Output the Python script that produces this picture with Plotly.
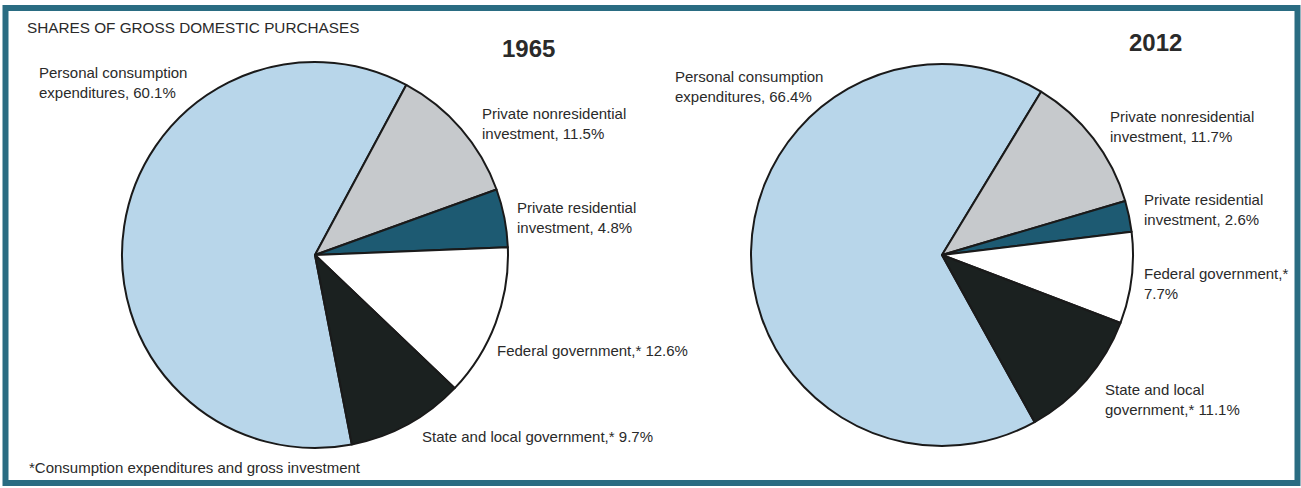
import plotly.graph_objects as go

categories = ["Personal consumption expenditures", "Private nonresidential investment",
              "Private residential investment", "Federal government", "State and local government"]
values_1965 = [60.1, 11.5, 4.8, 12.6, 9.7]
values_2012 = [66.4, 11.7, 2.6, 7.7, 11.1]
colors = ["#b8d6ea", "#c6c9cc", "#1d5a72", "#ffffff", "#1b2120"]

W, H = 1301, 488
REG = "Liberation Sans, Arial, sans-serif"

def px(x):
    return x / W

def py(y):
    return 1 - y / H

fig = go.Figure()
for vals, x0, x1, rot in [(values_1965, 122, 508, 169), (values_2012, 751, 1133, 151)]:
    fig.add_trace(go.Pie(
        labels=categories, values=vals, sort=False, direction="clockwise", rotation=rot,
        marker=dict(colors=colors, line=dict(color="#1a1a1a", width=2)),
        textinfo="none", hoverinfo="label+percent", showlegend=False,
        domain=dict(x=[px(x0), px(x1)], y=[py(448), py(62)]),
    ))

labels = [
    ("Personal consumption<br>expenditures, 60.1%", 37, 82),
    ("Private nonresidential<br>investment, 11.5%", 480, 124),
    ("Private residential<br>investment, 4.8%", 515, 217),
    ("Federal government,* 12.6%", 495, 350),
    ("State and local government,* 9.7%", 420, 436),
    ("*Consumption expenditures and gross investment", 27, 467),
    ("Personal consumption<br>expenditures, 66.4%", 673, 86),
    ("Private nonresidential<br>investment, 11.7%", 1108, 127),
    ("Private residential<br>investment, 2.6%", 1142, 209),
    ("Federal government,*<br>7.7%", 1142, 283),
    ("State and local<br>government,* 11.1%", 1103, 399),
]
for txt, x, y in labels:
    fig.add_annotation(text=txt, x=px(x), y=py(y), xref="paper", yref="paper",
                       xanchor="left", yanchor="middle", align="left", showarrow=False,
                       font=dict(family=REG, size=15, color="#2a2a2a"))

fig.add_annotation(text="SHARES OF GROSS DOMESTIC PURCHASES", x=px(25), y=py(28),
                   xref="paper", yref="paper", xanchor="left", yanchor="middle",
                   showarrow=False, font=dict(family=REG, size=15.3, color="#2a2a2a"))

years = [("1965", 528, 48), ("2012", 1155, 42)]
for txt, x, y in years:
    fig.add_annotation(text="<b>" + txt + "</b>", x=px(x), y=py(y), xref="paper", yref="paper",
                       xanchor="center", yanchor="middle", showarrow=False,
                       font=dict(family=REG, size=24, color="#2a2a2a"))

fig.add_shape(type="rect", xref="paper", yref="paper",
              x0=px(5.5), x1=px(1297.5), y0=py(483), y1=py(8),
              line=dict(color="#2a6c82", width=6), fillcolor="rgba(0,0,0,0)")

fig.update_layout(width=W, height=H, margin=dict(l=0, r=0, t=0, b=0),
                  paper_bgcolor="#ffffff", plot_bgcolor="#ffffff")
fig.write_html("out.html", config={"displayModeBar": False},
               post_script="document.body.style.margin='0';document.body.style.overflow='hidden';")
